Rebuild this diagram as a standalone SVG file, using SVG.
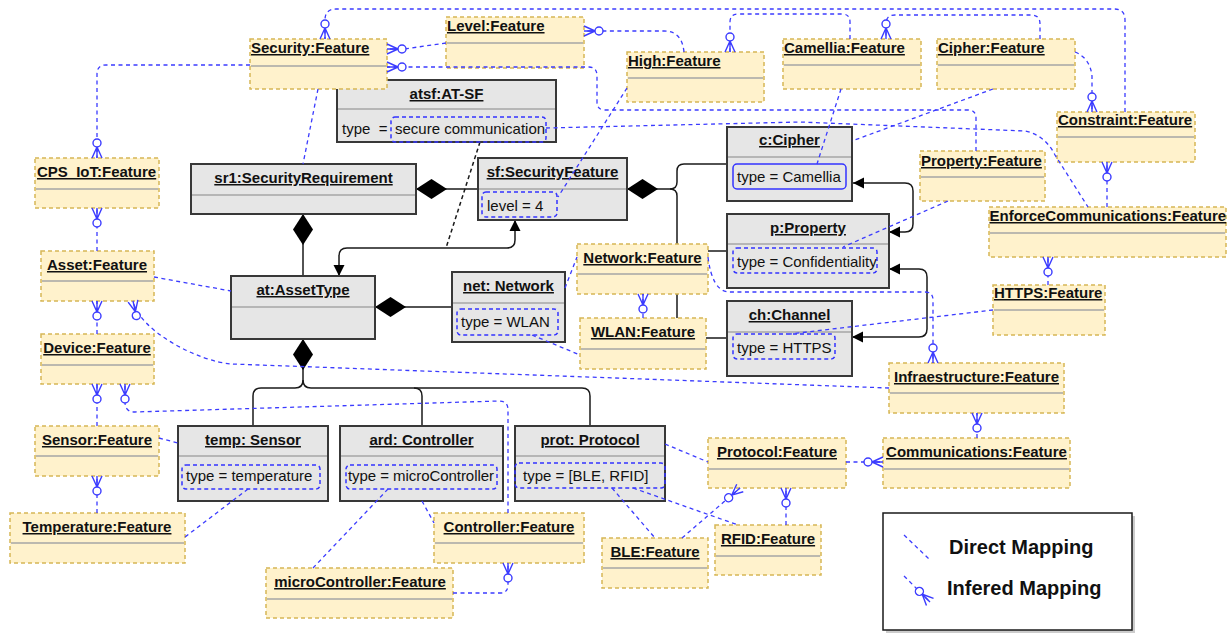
<svg xmlns="http://www.w3.org/2000/svg" width="1230" height="633" viewBox="0 0 1230 633">
  <style>
    text { font-family: "Liberation Sans", Arial, sans-serif; fill: #111; }
    .title { font-size: 15px; font-weight: bold; text-decoration: underline; }
    .mid { text-anchor: middle; }
    .attr { font-size: 15px; }
    .feat { fill: #fff2cc; stroke: #d6b656; stroke-width: 1.5; stroke-dasharray: 4 3; }
    .obj { fill: #e6e6e6; stroke: #383838; stroke-width: 2; }
    .sep { stroke: #a6a6a6; stroke-width: 1.5; }
    .abox { fill: none; stroke: #3333ff; stroke-width: 1.5; stroke-dasharray: 4 3; }
    .abox-solid { fill: none; stroke: #3333ff; stroke-width: 1.5; }
    .comp { fill: none; stroke: #1a1a1a; stroke-width: 1.5; }
    .map { fill: none; stroke: #3b3bff; stroke-width: 1.3; stroke-dasharray: 4 3.5; }
    .inf { marker-end: url(#zeroMany); }
    .legend-text { font-size: 20px; font-weight: bold; }
  </style>
  <defs>
    <!-- zero-or-many end: crow's foot touching the box, circle further out -->
    <marker id="zeroMany" markerUnits="userSpaceOnUse" markerWidth="24" markerHeight="14" viewBox="-21 -7 24 14" refX="0" refY="0" orient="auto" overflow="visible">
      <path d="M-11,0 L0,-5 M-11,0 L0,0 M-11,0 L0,5" fill="none" stroke="#3b3bff" stroke-width="1.4" stroke-dasharray="none"/>
      <circle cx="-15" cy="0" r="4" fill="#fff" stroke="#3b3bff" stroke-width="1.4" stroke-dasharray="none"/>
    </marker>
    <!-- composition diamond, placed at the start of a path leaving the whole -->
    <marker id="diamond" markerUnits="userSpaceOnUse" markerWidth="32" markerHeight="22" viewBox="0 -11 32 22" refX="0" refY="0" orient="auto" overflow="visible">
      <path d="M0,0 L15.5,-10 L31,0 L15.5,10 Z" fill="#000"/>
    </marker>
    <marker id="arrow" markerUnits="userSpaceOnUse" markerWidth="12" markerHeight="12" viewBox="-11 -6 12 12" refX="0" refY="0" orient="auto-start-reverse" overflow="visible">
      <path d="M0,0 L-11,-5.5 L-11,5.5 Z" fill="#000"/>
    </marker>
  </defs>

  <rect width="1230" height="633" fill="#ffffff"/>

  <!-- composition and association links of the instance model -->
  <g id="composition">
    <path class="comp" d="M303,214 V276" marker-start="url(#diamond)"/>
    <path class="comp" d="M416,189 H478" marker-start="url(#diamond)"/>
    <path class="comp" d="M627,189 H670 Q677,189 677,182 V171 Q677,164 684,164 H727" marker-start="url(#diamond)"/>
    <path class="comp" d="M670,189 Q677,189 677,196 V331 Q677,338 684,338 H727"/>
    <path class="comp" d="M677,251 H727"/>
    <path class="comp" d="M375,307 H452" marker-start="url(#diamond)"/>
    <path class="comp" d="M303,339 V380" marker-start="url(#diamond)"/>
    <path class="comp" d="M303,380 Q303,388 295,388 H261 Q253,388 253,396 V426"/>
    <path class="comp" d="M303,380 Q303,388 311,388 H414 Q422,388 422,396 V426"/>
    <path class="comp" d="M414,388 H582 Q590,388 590,396 V426"/>
    <path class="comp" d="M853,183 H905 Q913,183 913,191 V224 Q913,232 905,232 H889" marker-start="url(#arrow)" marker-end="url(#arrow)"/>
    <path class="comp" d="M889,269 H919 Q927,269 927,277 V329 Q927,337 919,337 H852" marker-start="url(#arrow)" marker-end="url(#arrow)"/>
    <path class="comp" d="M339,276 V256 Q339,248 347,248 H507 Q515,248 515,240 V220" marker-start="url(#arrow)" marker-end="url(#arrow)"/>
    <path class="comp" d="M480,142 L446,248" stroke-dasharray="4 3"/>
  </g>

  <!-- instance objects -->
  <g id="sr1">
    <rect class="obj" x="191" y="164" width="225" height="50"/>
    <line class="sep" x1="192" y1="195" x2="415" y2="195"/>
    <text class="title mid" x="303.5" y="183">sr1:SecurityRequirement</text>
  </g>
  <g id="atsf">
    <rect class="obj" x="337" y="80" width="219" height="62"/>
    <line class="sep" x1="338" y1="109" x2="555" y2="109"/>
    <text class="title mid" x="446.5" y="99">atsf:AT-SF</text>
    <text class="attr" x="342" y="134" xml:space="preserve">type  =</text>
    <rect class="abox" x="391" y="117" width="155" height="25" rx="4"/>
    <text class="attr" x="395" y="134">secure communication</text>
  </g>
  <g id="sf">
    <rect class="obj" x="478" y="158" width="149" height="62"/>
    <line class="sep" x1="479" y1="189" x2="626" y2="189"/>
    <text class="title mid" x="552.5" y="177">sf:SecurityFeature</text>
    <rect class="abox" x="482" y="192" width="75" height="25" rx="4"/>
    <text class="attr" x="487" y="211">level = 4</text>
  </g>
  <g id="cipher">
    <rect class="obj" x="727" y="127" width="125" height="74"/>
    <line class="sep" x1="728" y1="157" x2="851" y2="157"/>
    <text class="title mid" x="789.5" y="145">c:Cipher</text>
    <rect class="abox-solid" x="733" y="164" width="113" height="25" rx="4"/>
    <text class="attr" x="737" y="182">type = Camellia</text>
  </g>
  <g id="property">
    <rect class="obj" x="727" y="214" width="162" height="74"/>
    <line class="sep" x1="728" y1="244" x2="888" y2="244"/>
    <text class="title mid" x="808" y="233">p:Property</text>
    <rect class="abox" x="733" y="248" width="144" height="25" rx="4"/>
    <text class="attr" x="737" y="267">type = Confidentiality</text>
  </g>
  <g id="channel">
    <rect class="obj" x="727" y="301" width="125" height="75"/>
    <line class="sep" x1="728" y1="332" x2="851" y2="332"/>
    <text class="title mid" x="789.5" y="320">ch:Channel</text>
    <rect class="abox" x="733" y="334" width="102" height="25" rx="4"/>
    <text class="attr" x="737" y="353">type = HTTPS</text>
  </g>
  <g id="assetType">
    <rect class="obj" x="231" y="276" width="144" height="63"/>
    <line class="sep" x1="232" y1="307" x2="374" y2="307"/>
    <text class="title mid" x="303" y="295">at:AssetType</text>
  </g>
  <g id="network">
    <rect class="obj" x="452" y="272" width="113" height="70"/>
    <line class="sep" x1="453" y1="303" x2="564" y2="303"/>
    <text class="title mid" x="508.5" y="291">net: Network</text>
    <rect class="abox" x="457" y="309" width="101" height="26" rx="4"/>
    <text class="attr" x="461" y="327">type = WLAN</text>
  </g>
  <g id="sensor">
    <rect class="obj" x="178" y="426" width="150" height="75"/>
    <line class="sep" x1="179" y1="456" x2="327" y2="456"/>
    <text class="title mid" x="253" y="445">temp: Sensor</text>
    <rect class="abox" x="182" y="465" width="138" height="24" rx="4"/>
    <text class="attr" x="186" y="481">type = temperature</text>
  </g>
  <g id="controller">
    <rect class="obj" x="340" y="426" width="163" height="75"/>
    <line class="sep" x1="341" y1="456" x2="502" y2="456"/>
    <text class="title mid" x="421.5" y="445">ard: Controller</text>
    <rect class="abox" x="346" y="465" width="151" height="24" rx="4"/>
    <text class="attr" x="348" y="481" textLength="146" lengthAdjust="spacing">type = microController</text>
  </g>
  <g id="protocol">
    <rect class="obj" x="515" y="426" width="150" height="75"/>
    <line class="sep" x1="516" y1="456" x2="664" y2="456"/>
    <text class="title mid" x="590" y="445">prot: Protocol</text>
    <rect class="abox" x="515" y="463" width="150" height="25" rx="4"/>
    <text class="attr" x="523" y="481">type = [BLE, RFID]</text>
  </g>

  <!-- feature model nodes -->
  <g id="f-security">
    <rect class="feat" x="250" y="39" width="137" height="50"/>
    <line class="sep" x1="251" y1="66" x2="386" y2="66"/>
    <text class="title" x="251" y="53">Security:Feature</text>
  </g>
  <g id="f-level">
    <rect class="feat" x="446" y="17" width="138" height="51"/>
    <line class="sep" x1="447" y1="43" x2="583" y2="43"/>
    <text class="title" x="447" y="31">Level:Feature</text>
  </g>
  <g id="f-high">
    <rect class="feat" x="627" y="52" width="137" height="50"/>
    <line class="sep" x1="628" y1="78" x2="763" y2="78"/>
    <text class="title" x="628" y="66">High:Feature</text>
  </g>
  <g id="f-camellia">
    <rect class="feat" x="783" y="39" width="138" height="50"/>
    <line class="sep" x1="784" y1="65" x2="920" y2="65"/>
    <text class="title" x="784" y="53">Camellia:Feature</text>
  </g>
  <g id="f-cipher">
    <rect class="feat" x="937" y="39" width="138" height="50"/>
    <line class="sep" x1="938" y1="65" x2="1074" y2="65"/>
    <text class="title" x="938" y="53">Cipher:Feature</text>
  </g>
  <g id="f-constraint">
    <rect class="feat" x="1057" y="112" width="138" height="50"/>
    <line class="sep" x1="1058" y1="137" x2="1194" y2="137"/>
    <text class="title" x="1058" y="125">Constraint:Feature</text>
  </g>
  <g id="f-property">
    <rect class="feat" x="920" y="151" width="125" height="50"/>
    <line class="sep" x1="921" y1="177" x2="1044" y2="177"/>
    <text class="title" x="921" y="166">Property:Feature</text>
  </g>
  <g id="f-enforce">
    <rect class="feat" x="989" y="207" width="237" height="50"/>
    <line class="sep" x1="990" y1="233" x2="1225" y2="233"/>
    <text class="title" x="989.5" y="221">EnforceCommunications:Feature</text>
  </g>
  <g id="f-https">
    <rect class="feat" x="993" y="285" width="112" height="50"/>
    <line class="sep" x1="994" y1="310" x2="1104" y2="310"/>
    <text class="title" x="994" y="298">HTTPS:Feature</text>
  </g>
  <g id="f-cpsiot">
    <rect class="feat" x="35" y="158" width="124" height="50"/>
    <line class="sep" x1="36" y1="189" x2="158" y2="189"/>
    <text class="title" x="37" y="177">CPS_IoT:Feature</text>
  </g>
  <g id="f-asset">
    <rect class="feat" x="41" y="251" width="113" height="50"/>
    <line class="sep" x1="42" y1="281" x2="153" y2="281"/>
    <text class="title mid" x="97" y="270">Asset:Feature</text>
  </g>
  <g id="f-device">
    <rect class="feat" x="41" y="334" width="113" height="50"/>
    <line class="sep" x1="42" y1="365" x2="153" y2="365"/>
    <text class="title mid" x="97" y="353">Device:Feature</text>
  </g>
  <g id="f-sensor">
    <rect class="feat" x="35" y="426" width="124" height="50"/>
    <line class="sep" x1="36" y1="456" x2="158" y2="456"/>
    <text class="title mid" x="97" y="445">Sensor:Feature</text>
  </g>
  <g id="f-temperature">
    <rect class="feat" x="10" y="513" width="175" height="50"/>
    <line class="sep" x1="11" y1="543" x2="184" y2="543"/>
    <text class="title mid" x="97" y="532">Temperature:Feature</text>
  </g>
  <g id="f-microcontroller">
    <rect class="feat" x="266" y="568" width="187" height="50"/>
    <line class="sep" x1="267" y1="599" x2="452" y2="599"/>
    <text class="title mid" x="360" y="587">microController:Feature</text>
  </g>
  <g id="f-controller">
    <rect class="feat" x="434" y="513" width="150" height="50"/>
    <line class="sep" x1="435" y1="543" x2="583" y2="543"/>
    <text class="title mid" x="509" y="532">Controller:Feature</text>
  </g>
  <g id="f-ble">
    <rect class="feat" x="602" y="538" width="106" height="50"/>
    <line class="sep" x1="603" y1="568" x2="707" y2="568"/>
    <text class="title mid" x="655" y="557">BLE:Feature</text>
  </g>
  <g id="f-rfid">
    <rect class="feat" x="715" y="525" width="106" height="50"/>
    <line class="sep" x1="716" y1="556" x2="820" y2="556"/>
    <text class="title mid" x="768" y="544">RFID:Feature</text>
  </g>
  <g id="f-protocol">
    <rect class="feat" x="708" y="438" width="138" height="50"/>
    <line class="sep" x1="709" y1="469" x2="845" y2="469"/>
    <text class="title mid" x="777" y="457">Protocol:Feature</text>
  </g>
  <g id="f-communications">
    <rect class="feat" x="883" y="438" width="187" height="50"/>
    <line class="sep" x1="884" y1="469" x2="1069" y2="469"/>
    <text class="title mid" x="976.5" y="457">Communications:Feature</text>
  </g>
  <g id="f-infraestructure">
    <rect class="feat" x="889" y="363" width="175" height="50"/>
    <line class="sep" x1="890" y1="393" x2="1063" y2="393"/>
    <text class="title mid" x="976.5" y="382">Infraestructure:Feature</text>
  </g>
  <g id="f-network">
    <rect class="feat" x="577" y="244" width="131" height="50"/>
    <line class="sep" x1="578" y1="274" x2="707" y2="274"/>
    <text class="title mid" x="642.5" y="263">Network:Feature</text>
  </g>
  <g id="f-wlan">
    <rect class="feat" x="580" y="318" width="126" height="51"/>
    <line class="sep" x1="581" y1="349" x2="705" y2="349"/>
    <text class="title mid" x="643" y="337">WLAN:Feature</text>
  </g>

  <!-- mappings between instances and features -->
  <g id="mappings">
    <!-- direct mappings -->
    <path class="map" d="M318,89 L303,164"/>
    <path class="map" d="M154,277 L231,291"/>
    <path class="map" d="M159,438 L178,443"/>
    <path class="map" d="M248,489 L185,537"/>
    <path class="map" d="M388,489 L313,568"/>
    <path class="map" d="M422,501 L434,523"/>
    <path class="map" d="M665,444 L708,462"/>
    <path class="map" d="M612,488 L655,538"/>
    <path class="map" d="M633,488 L738,525"/>
    <path class="map" d="M565,288 L577,257"/>
    <path class="map" d="M532,335 L580,355"/>
    <path class="map" d="M993,310 L790,334"/>
    <path class="map" d="M948,201 L843,247"/>
    <path class="map" d="M993,89 L852,141"/>
    <path class="map" d="M841,89 L817,164"/>
    <path class="map" d="M627,88 L558,197"/>
    <path class="map" d="M546,128 L800,122 L1025,131 Q1045,135 1055,155 L1088,207"/>

    <!-- inferred mappings -->
    <path class="map inf" d="M1125,112 V20 Q1125,9 1114,9 H336 Q325,9 325,20 V39"/>
    <path class="map inf" d="M1040,39 V24 Q1040,15 1031,15 H895 Q886,15 886,24 V39"/>
    <path class="map inf" d="M850,39 V22 Q850,14 842,14 H738 Q730,14 730,22 V52"/>
    <path class="map inf" d="M1075,52 Q1090,58 1092,76 V112"/>
    <path class="map inf" d="M446,43 L404,49 H387"/>
    <path class="map inf" d="M684,52 Q682,31 664,31 H584"/>
    <path class="map inf" d="M976,151 V118 Q976,110 968,110 H605 Q597,110 597,102 V76 Q597,67 589,67 H387"/>
    <path class="map inf" d="M250,65 H106 Q97,65 97,74 V158"/>
    <path class="map inf" d="M97,251 V208"/>
    <path class="map inf" d="M97,334 V301"/>
    <path class="map inf" d="M889,388 L232,364 C200,362 140,332 133,301"/>
    <path class="map inf" d="M97,426 V384"/>
    <path class="map inf" d="M508,513 V410 Q508,401 499,401 L135,412 Q125,412 125,402 V384"/>
    <path class="map inf" d="M97,513 V476"/>
    <path class="map inf" d="M453,593 H500 Q508,593 508,585 V563"/>
    <path class="map inf" d="M682,538 L740,488"/>
    <path class="map inf" d="M786,525 V488"/>
    <path class="map inf" d="M846,462 H883"/>
    <path class="map inf" d="M977,438 V413"/>
    <path class="map inf" d="M708,257 Q712,290 728,292 H925 Q933,292 933,300 V363"/>
    <path class="map inf" d="M643,318 V294"/>
    <path class="map inf" d="M1048,285 V257"/>
    <path class="map inf" d="M1107,207 V162"/>
  </g>

  <!-- legend -->
  <g id="legend">
    <rect x="886" y="516" width="249" height="117" fill="#000" opacity="0.2"/>
    <rect x="883" y="513" width="249" height="117" fill="#fff" stroke="#1a1a1a" stroke-width="1.5"/>
    <path class="map" d="M904,535 L929,559"/>
    <text class="legend-text" x="949" y="554">Direct Mapping</text>
    <path class="map inf" d="M904,576 L930,602"/>
    <text class="legend-text" x="947" y="595">Infered Mapping</text>
  </g>
</svg>
